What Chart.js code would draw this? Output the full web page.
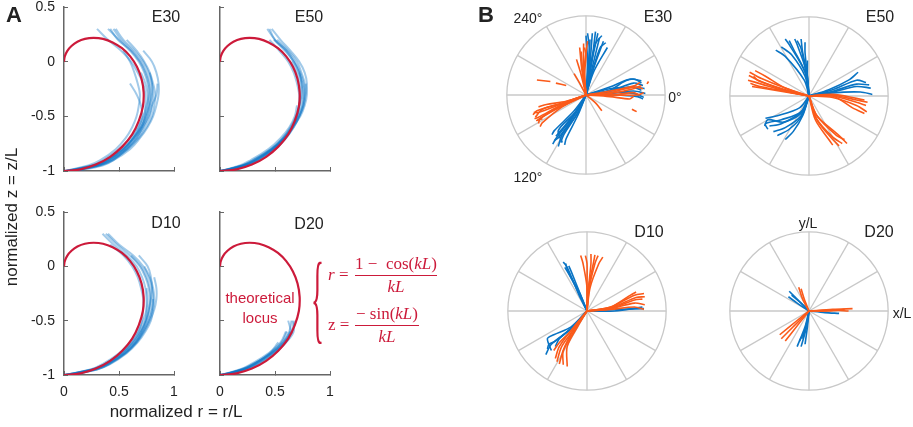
<!DOCTYPE html>
<html>
<head>
<meta charset="utf-8">
<script src="https://cdn.jsdelivr.net/npm/chart.js@4"></script>
<style>
body { margin: 0; width: 913px; height: 427px; position: relative; background: #fff; overflow: hidden;
       font-family: "Liberation Sans", Arial, sans-serif; color: #222; }
canvas { position: absolute; }
.t { position: absolute; white-space: nowrap; transform: translate(-50%, -50%); font-size: 14px; }
.ttl { font-size: 16px; }
.red { color: #cc1a3a; }
.m { position: absolute; white-space: nowrap; font-family: "Liberation Serif", "DejaVu Serif", serif; font-size: 17px; color: #cc1a3a; }
.frac { position: absolute; text-align: center; border-top: 1.3px solid #cc1a3a; }
</style>
</head>
<body>

<canvas id="aE30" width="184" height="190" style="left:0px;top:0px"></canvas>
<canvas id="aE50" width="184" height="190" style="left:156px;top:0px"></canvas>
<canvas id="aD10" width="184" height="210" style="left:0px;top:205px"></canvas>
<canvas id="aD20" width="184" height="210" style="left:156px;top:205px"></canvas>

<canvas id="bE30" width="190" height="190" style="left:491px;top:0px"></canvas>
<canvas id="bE50" width="190" height="190" style="left:714px;top:1px"></canvas>
<canvas id="bD10" width="190" height="190" style="left:492px;top:216px"></canvas>
<canvas id="bD20" width="190" height="190" style="left:714px;top:216px"></canvas>

<div class="t" style="left:14px;top:15px;font-size:22px;font-weight:bold">A</div>
<div class="t" style="left:486px;top:15px;font-size:22px;font-weight:bold">B</div>

<div class="t" style="left:12px;top:217px;font-size:17px;transform:translate(-50%,-50%) rotate(-90deg)">normalized z = z/L</div>
<div class="t" style="left:176px;top:412px;font-size:17px">normalized r = r/L</div>

<div class="t ttl" style="left:166px;top:17px">E30</div>
<div class="t ttl" style="left:309px;top:17px">E50</div>
<div class="t ttl" style="left:166px;top:223px">D10</div>
<div class="t ttl" style="left:309px;top:224px">D20</div>

<div class="t ttl" style="left:658px;top:17px">E30</div>
<div class="t ttl" style="left:880px;top:17px">E50</div>
<div class="t ttl" style="left:649px;top:232px">D10</div>
<div class="t ttl" style="left:879px;top:232px">D20</div>

<div class="t" style="left:528px;top:18px">240°</div>
<div class="t" style="left:675px;top:97px">0°</div>
<div class="t" style="left:528px;top:177px">120°</div>
<div class="t" style="left:808px;top:223px">y/L</div>
<div class="t" style="left:902px;top:313px">x/L</div>

<div class="t red" style="left:260px;top:297px;font-size:15px">theoretical</div>
<div class="t red" style="left:260px;top:317px;font-size:15px">locus</div>

<div class="m" style="left:311px;top:247px;font-size:30px;transform:scale(0.9,3.35);transform-origin:0 0;line-height:30px">{</div>
<div class="m" style="left:328px;top:265px"><i>r</i> =</div>
<div class="m" style="left:355px;top:254px;width:82px;text-align:center">1 −&nbsp; cos(<i>kL</i>)</div>
<div class="frac" style="left:355px;top:275px;width:82px;height:0"></div>
<div class="m" style="left:355px;top:277px;width:82px;text-align:center"><i>kL</i></div>
<div class="m" style="left:328px;top:315px">z =</div>
<div class="m" style="left:355px;top:304px;width:64px;text-align:center">− sin(<i>kL</i>)</div>
<div class="frac" style="left:355px;top:325px;width:64px;height:0"></div>
<div class="m" style="left:355px;top:327px;width:64px;text-align:center"><i>kL</i></div>

<script>
// theoretical locus
var locusR = [0, 0.15, 0.29, 0.42, 0.53, 0.62, 0.68, 0.717, 0.724, 0.705, 0.663, 0.602, 0.527, 0.442, 0.355, 0.269, 0.19, 0.122, 0.068, 0.029, 0.007, 0];
var locusZ = [-1, -0.985, -0.941, -0.87, -0.777, -0.665, -0.541, -0.411, -0.281, -0.158, -0.047, 0.048, 0.123, 0.176, 0.208, 0.217, 0.208, 0.182, 0.143, 0.097, 0.047, 0];

// measured traces in panel A: r at each z level
var zLevels = [-1, -0.95, -0.9, -0.8, -0.7, -0.6, -0.5, -0.4, -0.3, -0.2, -0.1, 0, 0.1, 0.2, 0.3];

var e30R = [
    [0.02, 0.3, 0.42, 0.56, 0.65, 0.72, 0.76, 0.78, 0.79, 0.78, 0.75, 0.7, 0.62, 0.52, 0.45],
    [0.05, 0.32, 0.44, 0.58, 0.68, 0.75, 0.8, 0.82, 0.83, 0.81, 0.78, 0.73, 0.66, 0.57],
    [0.0, 0.25, 0.36, 0.5, 0.6, 0.67, 0.72, 0.75, 0.77, 0.76, 0.73, 0.68, 0.6, 0.5, 0.4],
    [0.1, 0.35, 0.45, 0.57, 0.66, 0.71, 0.74, 0.76, 0.76, 0.74, 0.7],
    [0.03, 0.28, 0.4, 0.54, 0.64, 0.71, 0.77, 0.8, 0.84, 0.85],
    [0.05, 0.3, 0.41, 0.55, 0.63, 0.69, 0.73, 0.74, 0.74, 0.72, 0.67, 0.61, 0.52, 0.4, 0.3],
    [0.0, 0.22, 0.33, 0.47, 0.56, 0.62, 0.66, 0.68, 0.69, 0.67, 0.64, 0.6, 0.54],
    [0.08, 0.33, 0.45, 0.6, 0.69, 0.76, 0.81, 0.84, 0.86, 0.86, 0.84, 0.8, 0.72],
    [0.02, 0.26, 0.38, 0.53, 0.62, 0.68, 0.71, 0.7, 0.66, 0.6],
    [0.04, 0.31, 0.43, 0.57, 0.67, 0.73, 0.78, 0.8, 0.81, 0.8, 0.77, 0.72, 0.64, 0.54, 0.47],
    [0.01, 0.27, 0.39, 0.53, 0.63, 0.7, 0.75, 0.78, 0.8, 0.8, 0.78],
    [0.06, 0.29, 0.4, 0.54, 0.63, 0.7, 0.74, 0.77, 0.78, 0.77, 0.74, 0.69, 0.61, 0.49, 0.42]
];
var e50R = [
    [0.0, 0.22, 0.33, 0.48, 0.58, 0.65, 0.7, 0.73, 0.75, 0.74, 0.72, 0.67, 0.6, 0.5, 0.43],
    [0.02, 0.2, 0.3, 0.46, 0.57, 0.65, 0.71, 0.75, 0.77, 0.77, 0.74, 0.7, 0.62, 0.52],
    [0.0, 0.24, 0.35, 0.5, 0.6, 0.67, 0.72, 0.76, 0.78, 0.79, 0.77, 0.72, 0.64, 0.55, 0.47],
    [0.03, 0.23, 0.34, 0.49, 0.59, 0.66, 0.7, 0.72, 0.72, 0.7, 0.67, 0.62, 0.54, 0.45],
    [0.0, 0.18, 0.28, 0.44, 0.55, 0.63, 0.68, 0.7],
    [0.05, 0.25, 0.36, 0.5, 0.6, 0.66, 0.7, 0.72, 0.73, 0.72, 0.7, 0.65],
    [0.0, 0.21, 0.32, 0.47, 0.58, 0.66, 0.73, 0.77, 0.79, 0.78],
    [0.01, 0.21, 0.31, 0.47, 0.58, 0.66, 0.72, 0.76, 0.77, 0.76, 0.73, 0.68, 0.61, 0.5, 0.45],
    [0.03, 0.22, 0.33, 0.48, 0.59, 0.67, 0.72, 0.75, 0.76, 0.75, 0.72, 0.67, 0.59, 0.49],
    [0.0, 0.2, 0.31, 0.47, 0.57, 0.64, 0.69, 0.72, 0.74, 0.74, 0.72]
];
var d10R = [
    [0.02, 0.28, 0.4, 0.55, 0.65, 0.71, 0.75, 0.77, 0.78, 0.77, 0.74, 0.69, 0.6, 0.48, 0.38],
    [0.0, 0.25, 0.37, 0.52, 0.62, 0.69, 0.74, 0.77, 0.79, 0.8, 0.79, 0.76, 0.68],
    [0.05, 0.3, 0.42, 0.57, 0.67, 0.74, 0.79, 0.81, 0.82, 0.81, 0.78, 0.73],
    [0.0, 0.26, 0.38, 0.53, 0.62, 0.68, 0.71, 0.72, 0.72, 0.7, 0.67, 0.62, 0.54, 0.42],
    [0.03, 0.27, 0.39, 0.54, 0.64, 0.7, 0.74, 0.75, 0.75, 0.74, 0.71, 0.66, 0.57, 0.45, 0.35],
    [0.0, 0.24, 0.35, 0.5, 0.6, 0.67, 0.72, 0.75, 0.76, 0.75],
    [0.06, 0.3, 0.41, 0.56, 0.66, 0.72, 0.77, 0.8, 0.81],
    [0.01, 0.27, 0.39, 0.55, 0.65, 0.72, 0.77, 0.8, 0.81, 0.8, 0.77, 0.72, 0.63, 0.5, 0.4],
    [0.03, 0.29, 0.41, 0.56, 0.66, 0.73, 0.78, 0.82, 0.84, 0.84, 0.82],
    [0.0, 0.26, 0.37, 0.52, 0.63, 0.7, 0.75, 0.78, 0.79, 0.78, 0.75, 0.7, 0.61]
];
var d20R = [
    [0.0, 0.2, 0.3, 0.46, 0.57, 0.64],
    [0.02, 0.22, 0.33, 0.48, 0.58, 0.63, 0.65],
    [0.0, 0.18, 0.28, 0.44, 0.55, 0.6],
    [0.04, 0.24, 0.35, 0.5, 0.6, 0.66],
    [0.0, 0.21, 0.31, 0.45, 0.53],
    [0.02, 0.19, 0.3, 0.47, 0.59, 0.64, 0.62],
    [0.01, 0.21, 0.32, 0.47, 0.58, 0.65, 0.68],
    [0.03, 0.2, 0.31, 0.46, 0.56, 0.61],
    [0.0, 0.23, 0.34, 0.49, 0.6, 0.67, 0.66]
];

// panel B traces, [x/L, y/L] points
var e30Blue = [
    [[0, 0], [0.02, 0.4], [0.0, 0.75]],
    [[0, 0], [0.05, 0.4], [0.08, 0.78]],
    [[0, 0], [0.07, 0.4], [0.12, 0.8]],
    [[0, 0], [0.08, 0.35], [0.17, 0.72]],
    [[0, 0], [0.1, 0.35], [0.22, 0.68]],
    [[0, 0], [0.1, 0.3], [0.27, 0.6]],
    [[0, 0], [0.04, 0.35], [0.05, 0.7]],
    [[0, 0], [0.03, 0.38], [0.04, 0.6], [0.02, 0.78]],
    [[0, 0], [0.06, 0.38], [0.12, 0.65], [0.2, 0.75]],
    [[0, 0], [0.09, 0.33], [0.18, 0.6], [0.25, 0.66]],
    [[0, 0], [0.05, 0.3], [0.1, 0.55], [0.15, 0.78]],
    [[0, 0], [0.3, 0.05], [0.6, 0.15], [0.72, 0.12]],
    [[0, 0], [0.3, 0.02], [0.6, 0.05], [0.75, 0.02]],
    [[0, 0], [0.3, 0.1], [0.55, 0.2], [0.7, 0.18]],
    [[0, 0], [0.35, 0.0], [0.65, -0.02], [0.72, -0.05]],
    [[0, 0], [0.3, 0.08], [0.6, 0.1], [0.74, 0.08]],
    [[0, 0], [0.3, 0.06], [0.5, 0.18], [0.62, 0.2], [0.7, 0.15]],
    [[0, 0], [0.3, 0.03], [0.6, 0.02], [0.73, -0.03]],
    [[0, 0], [0.3, 0.05], [0.58, 0.1], [0.7, 0.06]],
    [[0, 0], [-0.15, -0.25], [-0.38, -0.55], [-0.42, -0.62]],
    [[0, 0], [-0.12, -0.25], [-0.3, -0.5], [-0.35, -0.65]],
    [[0, 0], [-0.15, -0.2], [-0.4, -0.45], [-0.43, -0.5]],
    [[0, 0], [-0.1, -0.25], [-0.25, -0.55], [-0.27, -0.63]],
    [[0, 0], [-0.14, -0.22], [-0.35, -0.45], [-0.3, -0.6]],
    [[0, 0], [-0.13, -0.23], [-0.33, -0.52], [-0.4, -0.58]],
    [[0, 0], [-0.12, -0.2], [-0.32, -0.45], [-0.38, -0.52]],
    [[0, 0], [-0.1, -0.22], [-0.28, -0.5], [-0.32, -0.6]]
];
var e30Orange = [
    [[0, 0], [-0.05, 0.3], [-0.08, 0.6]],
    [[0, 0], [-0.03, 0.3], [-0.03, 0.65]],
    [[0, 0], [-0.06, 0.25], [-0.12, 0.45]],
    [[0, 0], [-0.02, 0.35], [0.02, 0.68]],
    [[0, 0], [-0.08, 0.15], [-0.15, 0.27]],
    [[0, 0], [-0.04, 0.28], [-0.06, 0.55]],
    [[0, 0], [-0.02, 0.25], [0.0, 0.5], [-0.02, 0.6]],
    [[0, 0], [0.3, 0.02], [0.6, 0.08], [0.7, 0.12]],
    [[0, 0], [0.35, 0.0], [0.65, 0.0], [0.73, 0.03]],
    [[0, 0], [0.3, 0.05], [0.62, 0.12], [0.68, 0.16]],
    [[0, 0], [0.3, -0.02], [0.55, -0.05], [0.6, -0.02]],
    [[0, 0], [0.3, 0.03], [0.6, 0.1], [0.72, 0.08]],
    [[0, 0], [0.32, 0.0], [0.6, 0.03], [0.68, 0.0]],
    [[0, 0], [-0.3, -0.1], [-0.62, -0.2], [-0.67, -0.25]],
    [[0, 0], [-0.3, -0.12], [-0.6, -0.28], [-0.65, -0.3]],
    [[0, 0], [-0.3, -0.15], [-0.55, -0.35], [-0.58, -0.4]],
    [[0, 0], [-0.25, -0.08], [-0.5, -0.12], [-0.6, -0.15]],
    [[0, 0], [-0.3, -0.14], [-0.62, -0.32], [-0.55, -0.3]],
    [[0, 0], [-0.3, -0.11], [-0.6, -0.22], [-0.66, -0.22]],
    [[0, 0], [-0.3, -0.13], [-0.58, -0.3], [-0.6, -0.36]],
    [[0, 0], [-0.28, -0.1], [-0.55, -0.18], [-0.64, -0.28]],
    [[0, 0], [0.12, -0.1], [0.2, -0.2]],
    [[-0.62, 0.19], [-0.45, 0.17]],
    [[-0.38, 0.15], [-0.25, 0.12]],
    [[0.58, -0.18], [0.64, -0.21]],
    [[0.77, 0.14], [0.79, 0.17]]
];
var e50Blue = [
    [[0, 0], [-0.05, 0.3], [-0.25, 0.65], [-0.3, 0.72]],
    [[0, 0], [-0.03, 0.3], [-0.15, 0.65], [-0.18, 0.72]],
    [[0, 0], [-0.02, 0.25], [-0.05, 0.55], [-0.05, 0.68]],
    [[0, 0], [-0.06, 0.2], [-0.3, 0.5], [-0.42, 0.58]],
    [[0, 0], [-0.04, 0.3], [-0.1, 0.6], [-0.15, 0.7]],
    [[0, 0], [-0.02, 0.2], [-0.02, 0.45]],
    [[0, 0], [-0.04, 0.28], [-0.2, 0.6], [-0.25, 0.7]],
    [[0, 0], [-0.03, 0.3], [-0.08, 0.55], [-0.1, 0.72]],
    [[0, 0], [-0.05, 0.25], [-0.22, 0.52], [-0.35, 0.62]],
    [[0, 0], [0.3, 0.05], [0.6, 0.12], [0.78, 0.1]],
    [[0, 0], [0.25, 0.08], [0.5, 0.2], [0.62, 0.3]],
    [[0, 0], [0.3, 0.04], [0.65, 0.05], [0.8, 0.02]],
    [[0, 0], [0.3, 0.08], [0.6, 0.2], [0.72, 0.17]],
    [[0, 0], [0.3, 0.06], [0.6, 0.15], [0.76, 0.14]],
    [[0, 0], [-0.1, -0.2], [-0.35, -0.3], [-0.55, -0.35], [-0.52, -0.42]],
    [[0, 0], [-0.12, -0.15], [-0.4, -0.25], [-0.55, -0.28]],
    [[0, 0], [-0.1, -0.25], [-0.3, -0.4], [-0.45, -0.45]],
    [[0, 0], [-0.08, -0.25], [-0.2, -0.45], [-0.3, -0.55]],
    [[0, 0], [-0.1, -0.2], [-0.35, -0.35], [-0.5, -0.38]],
    [[0, 0], [-0.1, -0.22], [-0.32, -0.33], [-0.52, -0.3], [-0.56, -0.38]],
    [[0, 0], [-0.09, -0.25], [-0.25, -0.42], [-0.4, -0.5]]
];
var e50Orange = [
    [[0, 0], [-0.3, 0.1], [-0.6, 0.22], [-0.75, 0.3]],
    [[0, 0], [-0.3, 0.06], [-0.6, 0.15], [-0.77, 0.2]],
    [[0, 0], [-0.3, 0.05], [-0.6, 0.1], [-0.72, 0.12]],
    [[0, 0], [-0.3, 0.1], [-0.55, 0.25], [-0.68, 0.32]],
    [[0, 0], [-0.3, 0.08], [-0.65, 0.2], [-0.7, 0.25]],
    [[0, 0], [-0.3, 0.07], [-0.6, 0.18], [-0.76, 0.26]],
    [[0, 0], [-0.3, 0.06], [-0.62, 0.12], [-0.74, 0.16]],
    [[0, 0], [0.3, 0.0], [0.6, -0.08], [0.72, -0.12]],
    [[0, 0], [0.3, -0.02], [0.6, -0.12], [0.73, -0.2]],
    [[0, 0], [0.3, 0.02], [0.6, -0.03], [0.7, -0.05]],
    [[0, 0], [0.3, 0.0], [0.55, -0.15], [0.7, -0.22]],
    [[0, 0], [0.3, 0.01], [0.6, -0.05], [0.74, -0.08]],
    [[0, 0], [0.1, -0.3], [0.3, -0.55], [0.38, -0.63]],
    [[0, 0], [0.1, -0.25], [0.35, -0.5], [0.45, -0.55]],
    [[0, 0], [0.08, -0.3], [0.25, -0.55], [0.3, -0.62]],
    [[0, 0], [0.1, -0.25], [0.38, -0.5], [0.48, -0.6]],
    [[0, 0], [0.09, -0.28], [0.3, -0.52], [0.42, -0.6]]
];
var d10Blue = [
    [[0, 0], [-0.1, 0.2], [-0.25, 0.55], [-0.3, 0.62]],
    [[0, 0], [-0.08, 0.2], [-0.2, 0.5], [-0.23, 0.57]],
    [[0, 0], [-0.1, 0.22], [-0.22, 0.45], [-0.28, 0.55]],
    [[0, 0], [-0.09, 0.22], [-0.24, 0.5], [-0.27, 0.6]],
    [[0, 0], [0.35, 0.02], [0.72, 0.03]],
    [[0, 0], [0.35, 0.0], [0.7, 0.05]],
    [[0, 0], [-0.2, -0.2], [-0.42, -0.3], [-0.5, -0.35], [-0.45, -0.5]],
    [[0, 0], [-0.2, -0.22], [-0.45, -0.42], [-0.52, -0.55]],
    [[0, 0], [-0.18, -0.2], [-0.35, -0.35], [-0.4, -0.45]],
    [[0, 0], [-0.2, -0.22], [-0.4, -0.38], [-0.48, -0.42], [-0.5, -0.48]]
];
var d10Orange = [
    [[0, 0], [0.0, 0.3], [-0.05, 0.6], [-0.08, 0.7]],
    [[0, 0], [0.02, 0.3], [0.05, 0.6], [0.05, 0.72]],
    [[0, 0], [0.03, 0.3], [0.1, 0.6], [0.14, 0.7]],
    [[0, 0], [0.04, 0.3], [0.15, 0.6], [0.2, 0.68]],
    [[0, 0], [0.0, 0.3], [0.0, 0.6], [-0.02, 0.7]],
    [[0, 0], [0.02, 0.3], [0.08, 0.6], [0.1, 0.71]],
    [[0, 0], [0.3, 0.05], [0.6, 0.2], [0.72, 0.22]],
    [[0, 0], [0.3, 0.03], [0.6, 0.1], [0.73, 0.08]],
    [[0, 0], [0.3, 0.02], [0.6, 0.05], [0.72, 0.02]],
    [[0, 0], [0.3, 0.05], [0.55, 0.2], [0.62, 0.24]],
    [[0, 0], [0.3, 0.03], [0.6, 0.14], [0.7, 0.15]],
    [[0, 0], [0.3, 0.04], [0.62, 0.17], [0.73, 0.18]],
    [[0, 0], [-0.15, -0.2], [-0.3, -0.5], [-0.3, -0.68]],
    [[0, 0], [-0.15, -0.18], [-0.35, -0.45], [-0.4, -0.6]],
    [[0, 0], [-0.12, -0.2], [-0.25, -0.45], [-0.25, -0.7]],
    [[0, 0], [-0.15, -0.2], [-0.35, -0.4], [-0.42, -0.5]],
    [[0, 0], [-0.13, -0.2], [-0.3, -0.5], [-0.35, -0.67]],
    [[0, 0], [-0.14, -0.2], [-0.32, -0.45], [-0.38, -0.64]]
];
var d20Blue = [
    [[0, 0], [0.2, -0.02], [0.38, -0.03]],
    [[0, 0], [-0.12, 0.12], [-0.25, 0.25]],
    [[0, 0], [-0.1, 0.1], [-0.22, 0.2]],
    [[0, 0], [-0.15, 0.1], [-0.26, 0.18]],
    [[0, 0], [-0.03, -0.2], [-0.1, -0.45]],
    [[0, 0], [-0.02, -0.2], [-0.05, -0.42]],
    [[0, 0], [-0.05, -0.2], [-0.15, -0.45]],
    [[0, 0], [-0.03, -0.15], [-0.08, -0.35]],
    [[0, 0], [-0.04, -0.22], [-0.12, -0.38]]
];
var d20Orange = [
    [[0, 0], [0.3, 0.02], [0.55, 0.03]],
    [[0, 0], [0.3, 0.01], [0.5, 0.0]],
    [[0, 0], [0.25, 0.0], [0.45, 0.02]],
    [[0, 0], [-0.08, 0.15], [-0.13, 0.3]],
    [[0, 0], [-0.06, 0.15], [-0.1, 0.28]],
    [[0, 0], [-0.15, -0.15], [-0.35, -0.35]],
    [[0, 0], [-0.12, -0.15], [-0.3, -0.38]],
    [[0, 0], [-0.15, -0.12], [-0.37, -0.3]]
];

var RED = '#cc1a3a';
var BLUE = '#0a74c4';
var ORANGE = '#fa5a1a';
var FONT = { family: '"Liberation Sans", Arial, sans-serif', size: 14 };

function noPad(s) {
    s.paddingTop = 0;
    s.paddingBottom = 0;
    s.paddingLeft = 0;
    s.paddingRight = 0;
}

function sideChart(id, traces, showY, showX) {
    var sets = [{
        data: locusR.map(function (r, i) { return { x: r, y: locusZ[i] }; }),
        borderColor: RED, borderWidth: 2.2
    }];
    traces.forEach(function (rs) {
        sets.push({
            data: rs.map(function (r, i) { return { x: r, y: zLevels[i] }; }),
            borderColor: 'rgba(10,116,196,0.38)', borderWidth: 2
        });
    });
    var ctx = document.getElementById(id).getContext('2d');
    return new Chart(ctx, {
        type: 'scatter',
        data: { datasets: sets },
        options: {
            responsive: false,
            animation: false,
            showLine: true,
            elements: { point: { radius: 0 }, line: { tension: 0.4 } },
            layout: { autoPadding: false, padding: { top: 7, right: 10, left: 0, bottom: 0 } },
            plugins: { legend: { display: false }, tooltip: { enabled: false } },
            scales: {
                x: {
                    min: 0, max: 1,
                    ticks: { stepSize: 0.5, display: showX, color: '#222', font: FONT, padding: 13,
                             callback: function (v) { return String(v); } },
                    grid: { drawOnChartArea: false, tickLength: -4, color: '#666' },
                    border: { color: '#666', width: 1.5 },
                    afterFit: function (s) { s.height = showX ? 40 : 19; noPad(s); }
                },
                y: {
                    min: -1, max: 0.5,
                    ticks: { stepSize: 0.5, display: showY, color: '#222', font: FONT, padding: 13,
                             callback: function (v) { return String(v); } },
                    grid: { drawOnChartArea: false, tickLength: -4, color: '#666' },
                    border: { color: '#666', width: 1.5 },
                    afterFit: function (s) { s.width = 64; noPad(s); }
                }
            }
        }
    });
}

var polarGrid = {
    id: 'polarGrid',
    beforeDatasetsDraw: function (chart) {
        var c = chart.ctx;
        var xs = chart.scales.x, ys = chart.scales.y;
        var cx = xs.getPixelForValue(0), cy = ys.getPixelForValue(0);
        var rad = xs.getPixelForValue(1) - cx;
        c.save();
        c.strokeStyle = '#c8c8c8';
        c.lineWidth = 1.3;
        c.beginPath();
        c.arc(cx, cy, rad, 0, Math.PI * 2);
        c.stroke();
        for (var a = 0; a < 360; a += 30) {
            var t = a * Math.PI / 180;
            c.beginPath();
            c.moveTo(cx, cy);
            c.lineTo(cx + rad * Math.cos(t), cy + rad * Math.sin(t));
            c.stroke();
        }
        c.restore();
    }
};

function polarChart(id, blue, orange) {
    var sets = [];
    function add(list, col) {
        list.forEach(function (tr) {
            sets.push({
                data: tr.map(function (p) { return { x: p[0], y: p[1] }; }),
                borderColor: col, borderWidth: 1.6
            });
        });
    }
    add(orange, ORANGE);
    add(blue, BLUE);
    var ctx = document.getElementById(id).getContext('2d');
    return new Chart(ctx, {
        type: 'scatter',
        data: { datasets: sets },
        options: {
            responsive: false,
            animation: false,
            showLine: true,
            elements: { point: { radius: 0 }, line: { tension: 0.3 } },
            layout: { autoPadding: false, padding: 0 },
            plugins: { legend: { display: false }, tooltip: { enabled: false } },
            scales: {
                x: { display: false, min: -1.2, max: 1.2 },
                y: { display: false, min: -1.2, max: 1.2 }
            }
        },
        plugins: [polarGrid]
    });
}

window.onload = function () {
    sideChart('aE30', e30R, true, false);
    sideChart('aE50', e50R, false, false);
    sideChart('aD10', d10R, true, true);
    sideChart('aD20', d20R, false, true);
    polarChart('bE30', e30Blue, e30Orange);
    polarChart('bE50', e50Blue, e50Orange);
    polarChart('bD10', d10Blue, d10Orange);
    polarChart('bD20', d20Blue, d20Orange);
};
</script>
</body>
</html>
